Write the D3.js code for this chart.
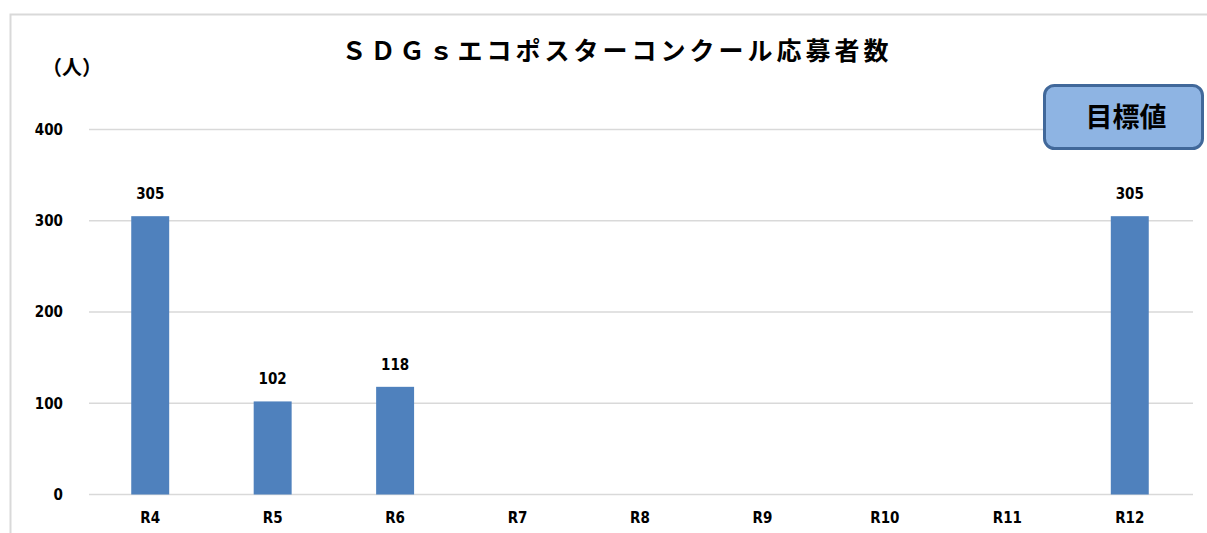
<!DOCTYPE html>
<html><head><meta charset="utf-8">
<script src="https://cdn.jsdelivr.net/npm/d3@7"></script>
<style>body{margin:0;background:#fff}svg{display:block}</style>
</head><body><svg id="c" width="1207" height="533"></svg>
<script>
const categories = ["R4","R5","R6","R7","R8","R9","R10","R11","R12"];
const values = [305,102,118,null,null,null,null,null,305];
const yTicks = [0,100,200,300,400];
const title = "ＳＤＧｓエコポスターコンクール応募者数";
const unitLabel = "（人）";
const targetLabel = "目標値";

const svg = d3.select("#c");
const numFont = "'DejaVu Sans Condensed','DejaVu Sans',sans-serif";
const jpFont = "'Noto Sans CJK JP',sans-serif";

// outer frame
svg.append("path").attr("d","M10.5,533 V14.5 H1207").attr("fill","none").attr("stroke","#D9D9D9").attr("stroke-width",2);

const x = d3.scaleBand().domain(categories).range([89,1191]).paddingInner(0.69).paddingOuter(0.345);
const y = d3.scaleLinear().domain([0,400]).range([494.5,129.5]);

// grid
svg.append("g").selectAll("line").data(yTicks).join("line")
  .attr("x1",89).attr("x2",1193).attr("y1",d=>y(d)).attr("y2",d=>y(d))
  .attr("stroke","#D9D9D9").attr("stroke-width",1.5);

// y axis labels
const yAxis = d3.axisLeft(y).tickValues(yTicks).tickSize(0).tickPadding(0);
const ya = svg.append("g").attr("transform","translate(63,0)").call(yAxis);
ya.select(".domain").remove();
ya.selectAll("text").attr("font-family",numFont).attr("font-weight","bold").attr("font-size",15).attr("fill","#000");

// x axis labels
const xAxis = d3.axisBottom(x).tickSize(0).tickPadding(0);
const xa = svg.append("g").attr("transform","translate(0,512)").call(xAxis);
xa.select(".domain").remove();
xa.selectAll("text").attr("font-family",numFont).attr("font-weight","bold").attr("font-size",15).attr("fill","#000");

// bars
const data = categories.map((c,i)=>({c,v:values[i]})).filter(d=>d.v!=null);
svg.append("g").selectAll("rect").data(data).join("rect")
  .attr("x",d=>x(d.c)).attr("width",x.bandwidth())
  .attr("y",d=>y(d.v)).attr("height",d=>y(0)-y(d.v))
  .attr("fill","#4F81BD");

// value labels
svg.append("g").selectAll("text").data(data).join("text")
  .attr("x",d=>x(d.c)+x.bandwidth()/2).attr("y",d=>y(d.v)-17)
  .attr("text-anchor","middle").attr("font-family",numFont).attr("font-weight","bold").attr("font-size",15)
  .text(d=>d.v);

// title
svg.append("text").attr("x",617).attr("y",60).attr("text-anchor","middle")
  .attr("font-family",jpFont).attr("font-weight","bold").attr("font-size",25).attr("letter-spacing",4).attr("fill","#000")
  .text(title);

// unit
svg.append("text").attr("x",72).attr("y",75).attr("text-anchor","middle")
  .attr("font-family",jpFont).attr("font-weight","bold").attr("font-size",20).attr("fill","#000")
  .text(unitLabel);

// target box
svg.append("rect").attr("x",1044.5).attr("y",85.5).attr("width",158).attr("height",63).attr("rx",10)
  .attr("fill","#8EB4E3").attr("stroke","#41689A").attr("stroke-width",3);
svg.append("text").attr("x",1126).attr("y",127).attr("text-anchor","middle")
  .attr("font-family",jpFont).attr("font-weight","bold").attr("font-size",27).attr("fill","#000")
  .text(targetLabel);
</script></body></html>
